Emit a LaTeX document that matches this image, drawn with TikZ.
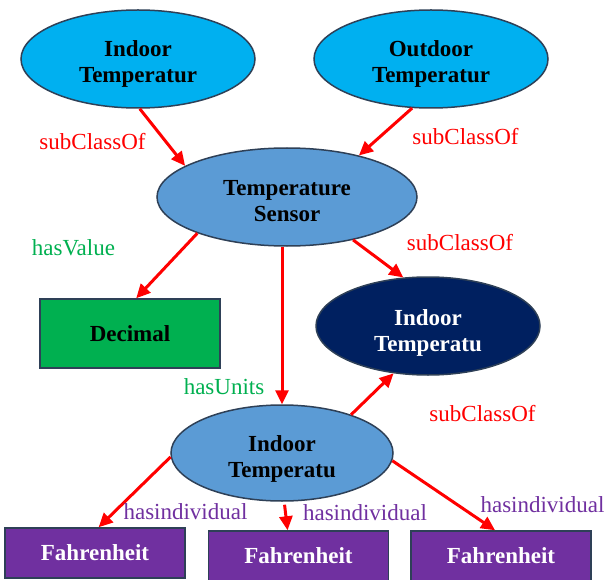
\documentclass[tikz,border=0pt]{standalone}
\usepackage{fontspec}
\setmainfont{Liberation Serif}
\usetikzlibrary{shapes.geometric,arrows.meta}
\definecolor{skyblue}{HTML}{00B0F0}
\definecolor{midblue}{HTML}{5B9BD5}
\definecolor{deepnavy}{HTML}{002060}
\definecolor{leaf}{HTML}{00B050}
\definecolor{grape}{HTML}{7030A0}
\definecolor{edgeline}{HTML}{2E4057}
\definecolor{relred}{HTML}{FF0000}

\begin{document}
\begin{tikzpicture}[x=1pt,y=-1pt,
  cls/.style={ellipse, draw=edgeline, line width=1.5pt, inner sep=0pt},
  box/.style={rectangle, draw=edgeline, line width=1.5pt, inner sep=0pt, align=center,
    font=\fontsize{23}{26}\selectfont\bfseries},
  classname/.style={inner sep=0pt, align=center, font=\fontsize{23}{26}\selectfont\bfseries},
  unit/.style={box, fill=grape, text=white, minimum width=180pt, minimum height=50pt},
  rel/.style={draw=relred, line width=3pt, -{Triangle[length=14pt,width=13pt]}},
  lbl/.style={font=\fontsize{23}{26}\selectfont, inner sep=0pt},
  sub/.style={lbl, text=relred},
  prop/.style={lbl, text=leaf},
  indiv/.style={lbl, text=grape},
]
\useasboundingbox (0,0) rectangle (607,580);
\fill[white] (0,0) rectangle (607,580);

% class nodes
\node[cls, fill=skyblue, minimum width=234pt, minimum height=98pt] (indoor) at (138,59) {};
\node[cls, fill=skyblue, minimum width=234pt, minimum height=98pt] (outdoor) at (431,59) {};
\node[cls, fill=midblue, minimum width=260pt, minimum height=98pt] (sensor) at (287,197) {};
\node[box, fill=leaf, minimum width=180pt, minimum height=69pt] (decimal) at (130,333.5) {Decimal};
\node[cls, fill=deepnavy, minimum width=224pt, minimum height=98pt] (dark) at (428,326) {};
\node[cls, fill=midblue, minimum width=222pt, minimum height=96pt] (bottom) at (282,453) {};

% class names, set a little below each ellipse's centre
\node[classname] (indoor-t) at ([yshift=-5pt]indoor.center) {Indoor\\Temperatur};
\node[classname] (outdoor-t) at ([yshift=-5pt]outdoor.center) {Outdoor\\Temperatur};
\node[classname] (sensor-t) at ([yshift=-4pt]sensor.center) {Temperature\\Sensor};
\node[classname, text=white] (dark-t) at ([yshift=-7pt]dark.center) {Indoor\\Temperatu};
\node[classname] (bottom-t) at ([yshift=-5.5pt]bottom.center) {Indoor\\Temperatu};

% individuals
\node[unit] (f1) at (95,553) {Fahrenheit};
\node[unit] (f2) at (298.5,556) {Fahrenheit};
\node[unit] (f3) at (501,556) {Fahrenheit};

% relations
\draw[rel] (indoor.-88) -- (sensor.163.5);
\draw[rel] (outdoor.-111) -- (sensor.30.6);
\draw[rel] (sensor.202.5) -- (decimal.80);
\draw[rel] (bottom.north |- sensor.south) -- (bottom.north);
\draw[rel] (sensor.-33.5) -- (dark.117.6);
\draw[rel] (bottom.29.4) -- (dark.-126.7);
\draw[rel] (bottom.182) -- (f1.82);
\draw[rel] ([yshift=-3pt]bottom.-87) -- (f2.113);
\draw[rel] (bottom.-4.7) -- (f3.103);

% relation labels
\node[sub] (l1) at (92.5,142) {subClassOf};
\node[sub] (l2) at (465.5,137) {subClassOf};
\node[prop] (l3) at (73.5,248) {hasValue};
\node[sub] (l4) at (460,243) {subClassOf};
\node[prop] (l5) at (224,387) {hasUnits};
\node[sub] (l6) at (482.5,414) {subClassOf};
\node[indiv] (l7) at (185.5,512) {hasindividual};
\node[indiv] (l8) at (365,513) {hasindividual};
\node[indiv] (l9) at (542.5,505) {hasindividual};
\end{tikzpicture}
\end{document}
